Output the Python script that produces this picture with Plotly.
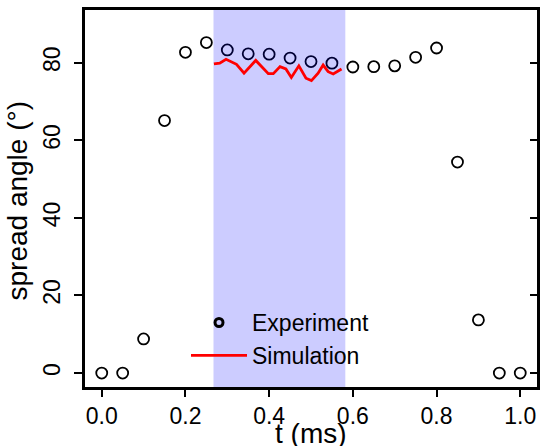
import plotly.graph_objects as go

# Experiment data (t in ms, spread angle in degrees)
exp_t = [0.0, 0.05, 0.1, 0.15, 0.2, 0.25, 0.3, 0.35, 0.4, 0.45, 0.5,
         0.55, 0.6, 0.65, 0.7, 0.75, 0.8, 0.85, 0.9, 0.95, 1.0]
exp_angle = [0.0, 0.0, 8.8, 65.1, 82.7, 85.2, 83.3, 82.3, 82.2, 81.2, 80.3,
             79.9, 78.9, 79.0, 79.2, 81.4, 83.8, 54.4, 13.7, 0.0, 0.0]

# Simulation data
sim_t = [0.268, 0.282, 0.297, 0.322, 0.340, 0.368, 0.398, 0.410, 0.426, 0.440,
         0.453, 0.471, 0.488, 0.501, 0.517, 0.529, 0.541, 0.553, 0.573]
sim_angle = [79.7, 79.9, 80.9, 79.6, 77.3, 80.6, 77.2, 77.2, 79.0, 78.4,
             76.2, 79.2, 76.0, 75.4, 77.3, 79.4, 77.7, 77.1, 78.4]

# Simulated window (shaded)
window_start = 0.267
window_end = 0.582

x_range = [-0.04, 1.04]
y_range = [-3.6, 93.6]
x_ticks = [0.0, 0.2, 0.4, 0.6, 0.8, 1.0]
x_ticklabels = ["0.0", "0.2", "0.4", "0.6", "0.8", "1.0"]
y_ticks = [0, 20, 40, 60, 80]

fig = go.Figure()

fig.add_trace(go.Scatter(
    x=exp_t, y=exp_angle, mode="markers", showlegend=False,
    marker=dict(symbol="circle-open", size=11, color="black",
                line=dict(width=1.8, color="black")),
    cliponaxis=False,
))

fig.add_trace(go.Scatter(
    x=[window_start, window_end, window_end, window_start, window_start],
    y=[y_range[0], y_range[0], y_range[1], y_range[1], y_range[0]],
    mode="lines", fill="toself", fillcolor="rgba(0,0,255,0.2)",
    line=dict(width=0), showlegend=False, hoverinfo="skip",
))

fig.add_trace(go.Scatter(
    x=sim_t, y=sim_angle, mode="lines", name="Simulation", legendrank=2,
    line=dict(color="red", width=2.8),
))

fig.add_trace(go.Scatter(
    x=[None], y=[None], mode="markers", name="Experiment", legendrank=1,
    marker=dict(symbol="circle-open", size=8, color="black",
                line=dict(width=3, color="black")),
))

# right-side inward ticks
fig.add_trace(go.Scatter(x=[None], y=[None], yaxis="y2", showlegend=False))

fig.update_layout(
    width=545, height=446,
    margin=dict(l=85, r=8, t=10, b=59),
    paper_bgcolor="white", plot_bgcolor="white",
    font=dict(family="Liberation Sans, Arial, sans-serif", color="black", size=22),
    xaxis=dict(
        range=x_range, tickvals=x_ticks, ticktext=x_ticklabels,
        ticks="outside", ticklen=7, tickwidth=1.5, tickcolor="black",
        showline=True, linewidth=2.5, linecolor="black", mirror=True,
        showgrid=False, zeroline=False, automargin=False,
        tickfont=dict(size=23),
    ),
    yaxis=dict(
        range=y_range, tickvals=y_ticks,
        ticks="outside", ticklen=8, tickwidth=1.5, tickcolor="black",
        showline=True, linewidth=2.5, linecolor="black", mirror=True,
        showgrid=False, zeroline=False, automargin=False,
        tickangle=-90, tickfont=dict(size=23), ticklabelstandoff=5,
    ),
    yaxis2=dict(
        range=y_range, tickvals=y_ticks, overlaying="y", side="right",
        ticks="inside", ticklen=7, tickwidth=1.5, tickcolor="black",
        showticklabels=False, showgrid=False, zeroline=False, showline=False,
        automargin=False,
    ),
    annotations=[
        dict(text="t (ms)", xref="paper", yref="paper", x=0.5, y=0,
             xanchor="center", yanchor="middle", yshift=-46, showarrow=False,
             font=dict(size=28)),
        dict(text="spread angle (°)", xref="paper", yref="paper", x=0, y=0.5,
             xanchor="center", yanchor="middle", xshift=-68, yshift=-2,
             textangle=-90, showarrow=False, font=dict(size=28)),
    ],
    legend=dict(
        x=(186 - 85) / 452, y=0.228, xanchor="left", yanchor="top",
        bgcolor="rgba(0,0,0,0)", font=dict(size=23),
        itemwidth=56, tracegroupgap=0,
    ),
    showlegend=True,
)

fig.write_html("out.html", config={"displayModeBar": False},
               post_script="document.body.style.margin='0';document.body.style.overflow='hidden';")
